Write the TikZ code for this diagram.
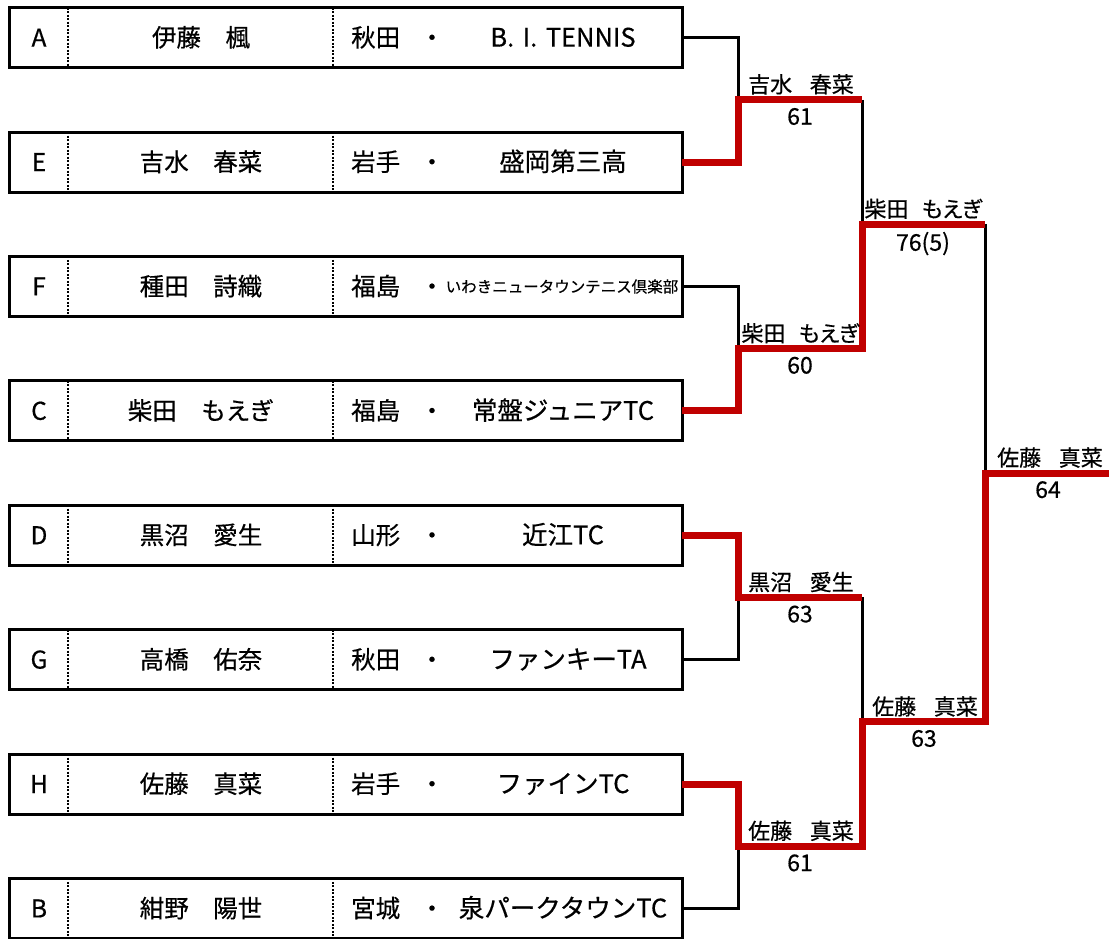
\documentclass[tikz,border=0pt]{standalone}
\usepackage{fontspec}
\setmainfont{Noto Sans CJK JP}[FakeBold=0.5]
\newfontfamily\lblfont{Noto Sans CJK JP}[RawFeature=+palt,FakeBold=0.5]
\definecolor{winred}{RGB}{192,0,0}
\begin{document}
\begin{tikzpicture}[x=1pt,y=-1pt,
  entry/.style={draw,line width=3pt,minimum width=673pt,minimum height=60pt,inner sep=0pt,outer sep=0pt,anchor=west},
  divider/.style={line width=2.2pt,dash pattern=on 2pt off 1.5pt},
  loseline/.style={line width=3pt,black},
  winline/.style={line width=7pt,winred},
  boxtxt/.style={font=\fontsize{24.5}{28}\selectfont,inner sep=0pt,anchor=base},
  clubtxt/.style={font=\fontsize{25.5}{28}\selectfont,inner sep=0pt,anchor=base},
  smalltxt/.style={font=\fontsize{15.5}{18}\selectfont,inner sep=0pt,anchor=base},
  lbl/.style={font=\lblfont\fontsize{22}{24}\selectfont,anchor=south,inner sep=0pt},
  score/.style={font=\fontsize{23}{24}\selectfont,anchor=north,inner sep=0pt},
]
\useasboundingbox (0,0) rectangle (1109,938);

% entry boxes
\foreach \nm/\y in {A/37.6,E/162,F/286.4,C/410.8,D/535.2,G/659.6,H/784,B/908.4}{
  \node[entry] (b\nm) at (9,\y) {};
  \draw[divider] ([xshift=59pt]b\nm.north west) -- ([xshift=59pt]b\nm.south west);
  \draw[divider] ([xshift=324pt]b\nm.north west) -- ([xshift=324pt]b\nm.south west);
  \node[boxtxt] (l\nm) at (39,\y+9) {\nm};
  \node[boxtxt] (d\nm) at (432,\y+9) {・};
}
\node[boxtxt] (nA) at (201,37.6+9) {伊藤　楓};
\node[boxtxt] (nE) at (201,162+9) {吉水　春菜};
\node[boxtxt] (nF) at (201,286.4+9) {種田　詩織};
\node[boxtxt] (nC) at (201,410.8+9) {柴田　もえぎ};
\node[boxtxt] (nD) at (201,535.2+9) {黒沼　愛生};
\node[boxtxt] (nG) at (201,659.6+9) {高橋　佑奈};
\node[boxtxt] (nH) at (201,784+9) {佐藤　真菜};
\node[boxtxt] (nB) at (201,908.4+9) {紺野　陽世};

\node[boxtxt,anchor=base west] (pA) at (351,37.6+9) {秋田};
\node[boxtxt,anchor=base west] (pE) at (351,162+9) {岩手};
\node[boxtxt,anchor=base west] (pF) at (351,286.4+9) {福島};
\node[boxtxt,anchor=base west] (pC) at (351,410.8+9) {福島};
\node[boxtxt,anchor=base west] (pD) at (351,535.2+9) {山形};
\node[boxtxt,anchor=base west] (pG) at (351,659.6+9) {秋田};
\node[boxtxt,anchor=base west] (pH) at (351,784+9) {岩手};
\node[boxtxt,anchor=base west] (pB) at (351,908.4+9) {宮城};

\node[clubtxt] (cA) at (563,37.6+9) {B.\,\,I.\,\,TENNIS};
\node[clubtxt] (cE) at (563,162+9) {盛岡第三高};
\node[smalltxt] (cF) at (562,286.4+6) {いわきニュータウンテニス倶楽部};
\node[clubtxt] (cC) at (563,410.8+9) {常盤ジュニアTC};
\node[clubtxt] (cD) at (563,535.2+9) {近江TC};
\node[clubtxt] (cG) at (568,659.6+9) {ファンキーTA};
\node[clubtxt] (cH) at (563,784+9) {ファインTC};
\node[clubtxt] (cB) at (563,908.4+9) {泉パークタウンTC};

% junction coordinates
\coordinate (j1a) at (738,99.8);  \coordinate (k1a) at (862,99.8);
\coordinate (j1b) at (738,348.6); \coordinate (k1b) at (862,348.6);
\coordinate (j1c) at (738,597.4); \coordinate (k1c) at (862,597.4);
\coordinate (j1d) at (738,846.2); \coordinate (k1d) at (862,846.2);
\coordinate (j2a) at (862,224.2); \coordinate (k2a) at (985,224.2);
\coordinate (j2b) at (862,721.8); \coordinate (k2b) at (985,721.8);
\coordinate (jf) at (985,473);    \coordinate (kf) at (1109,473);

% losing paths
\draw[loseline] (bA.east) -| (j1a);
\draw[loseline] (bF.east) -| (j1b);
\draw[loseline] (bG.east) -| (j1c);
\draw[loseline] (bB.east) -| (j1d);
\draw[loseline] (k1a) -- (j2a);
\draw[loseline] (k1c) -- (j2b);
\draw[loseline] (k2a) -- (jf);

% winning paths
\draw[winline] (bE.east) -| (j1a) -- (k1a);
\draw[winline] (bC.east) -| (j1b) -- (k1b) -- (j2a) -- (k2a);
\draw[winline] (bD.east) -| (j1c) -- (k1c);
\draw[winline] (bH.east) -| (j1d) -- (k1d) -- (j2b) -- (k2b) -- (jf) -- (kf);

% winner labels and scores
\node[lbl] (w1a) at (801,94.8) {吉水\kern0.8em 春菜};
\node[score] (s1a) at (800,107.8) {61};
\node[lbl] (w1b) at (800,343.6) {柴田\kern0.6em もえぎ};
\node[score] (s1b) at (800,356.6) {60};
\node[lbl] (w1c) at (801,592.4) {黒沼\kern0.8em 愛生};
\node[score] (s1c) at (800,605.4) {63};
\node[lbl] (w1d) at (801,841.2) {佐藤\kern0.8em 真菜};
\node[score] (s1d) at (800,854.2) {61};
\node[lbl] (w2a) at (923,219.2) {柴田\kern0.6em もえぎ};
\node[score] (s2a) at (923,231.7) {76(5)};
\node[lbl] (w2b) at (925,716.8) {佐藤\kern0.8em 真菜};
\node[score] (s2b) at (924,729.8) {63};
\node[lbl] (wf) at (1050,468) {佐藤\kern0.8em 真菜};
\node[score] (sf) at (1048,481) {64};
\end{tikzpicture}
\end{document}
